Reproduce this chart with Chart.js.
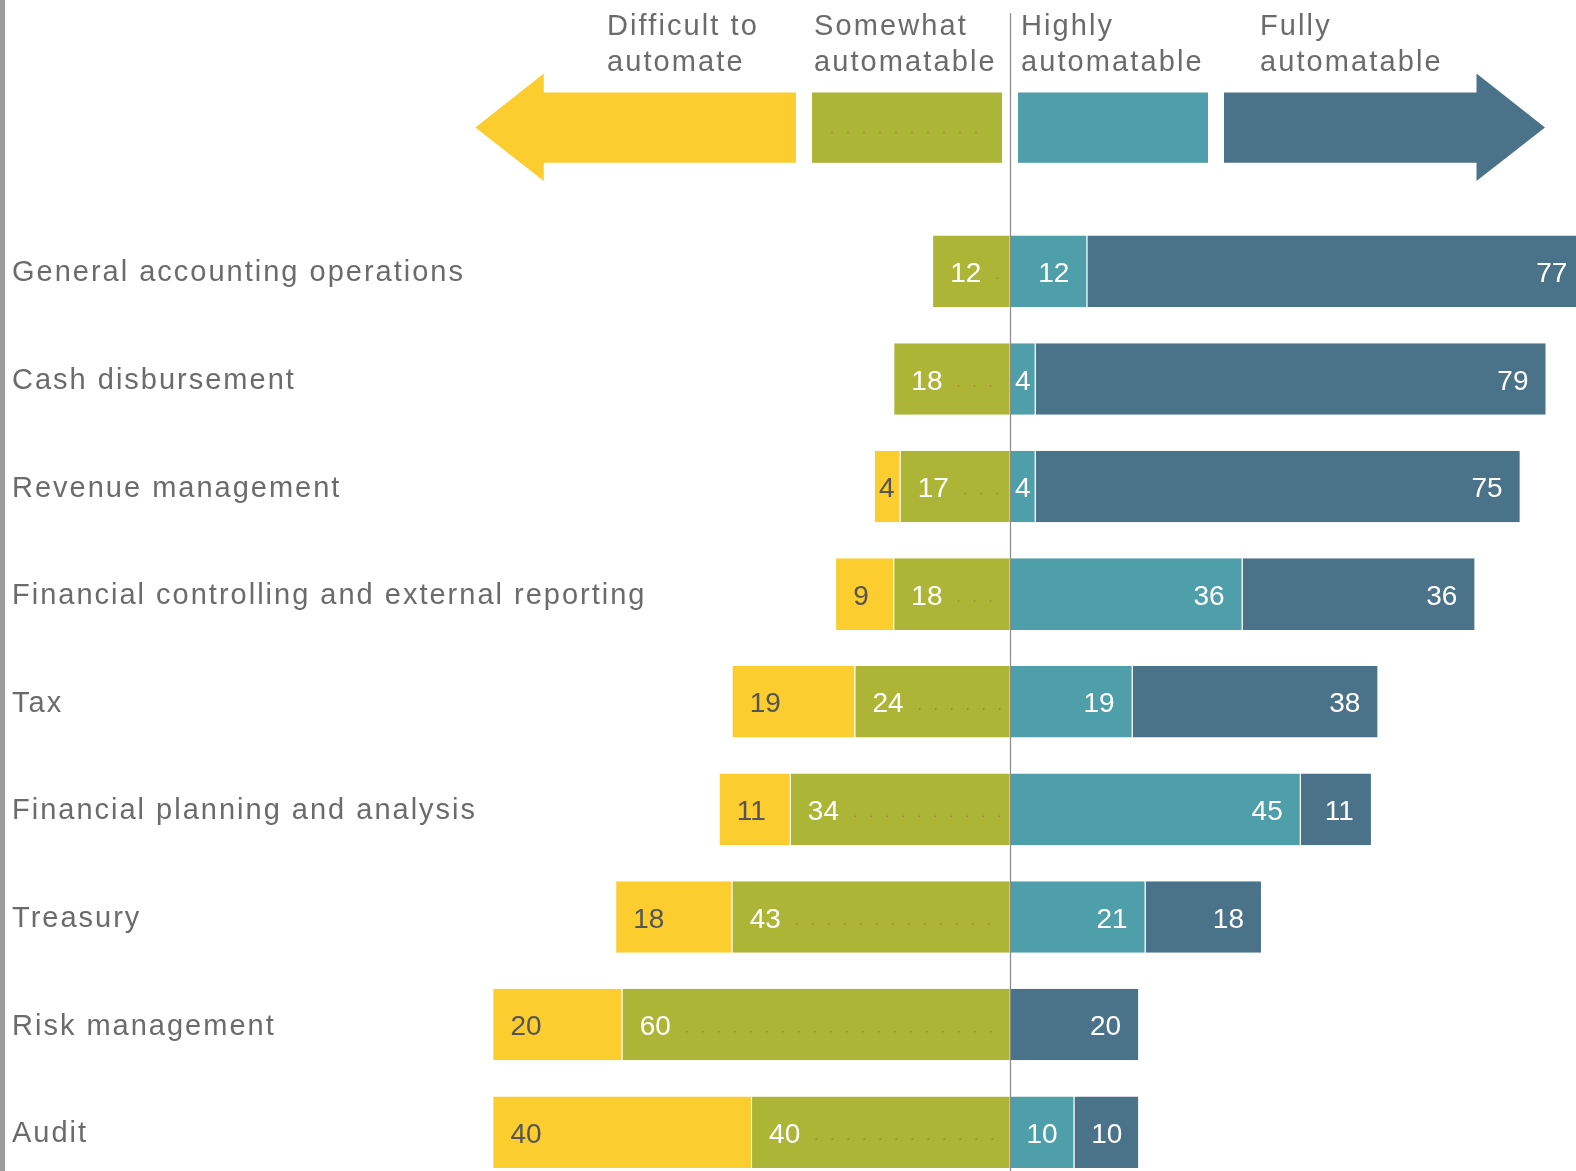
<!DOCTYPE html>
<html><head><meta charset="utf-8">
<script src="https://cdn.jsdelivr.net/npm/chart.js@4/dist/chart.umd.min.js"></script>
<style>
html,body{margin:0;padding:0;overflow:hidden;background:#fff;width:1576px;height:1171px}
#wrap{position:absolute;left:0;top:0;width:1576px;height:1216px}
canvas{display:block}
</style></head><body>
<div id="wrap"><canvas id="c" width="1576" height="1216"></canvas></div>
<script>
// ---- data ----
const categories = [
  'General accounting operations',
  'Cash disbursement',
  'Revenue management',
  'Financial controlling and external reporting',
  'Tax',
  'Financial planning and analysis',
  'Treasury',
  'Risk management',
  'Audit'
];
const difficultToAutomate = [0, 0, 4, 9, 19, 11, 18, 20, 40];
const somewhatAutomatable = [12, 18, 17, 18, 24, 34, 43, 60, 40];
const highlyAutomatable   = [12, 4, 4, 36, 19, 45, 21, 0, 10];
const fullyAutomatable    = [77, 79, 75, 36, 38, 11, 18, 20, 10];
const legendLines = [
  ['Difficult to', 'automate'],
  ['Somewhat', 'automatable'],
  ['Highly', 'automatable'],
  ['Fully', 'automatable']
];
const xRange = [-154.28, 87.56];

// ---- styles ----
const YELLOW = '#FBCD2F', GREEN = '#ACB536', TEAL = '#4E9FAA', DARK = '#4A7289';
const TEXT = '#6b6b6b';
const FONT = '"Liberation Sans", Arial, Helvetica, sans-serif';

const decor = {
  id: 'decor',
  beforeDraw(chart) {
    const ctx = chart.ctx;
    ctx.save();
    ctx.fillStyle = '#9c9c9c';
    ctx.fillRect(0, 0, 5, chart.height);
    ctx.restore();
    ctx.letterSpacing = '2px';
  },
  afterDatasetsDraw(chart) {
    const ctx = chart.ctx;
    const ds = chart.data.datasets;
    ctx.save();
    ctx.letterSpacing = '0px';
    ctx.font = '28px ' + FONT;
    ctx.textBaseline = 'middle';
    ds.forEach((d, i) => {
      const meta = chart.getDatasetMeta(i);
      meta.data.forEach((bar, j) => {
        const v = d.data[j];
        if (!v) return;
        const p = bar.getProps(['x', 'base', 'y'], true);
        const left = Math.min(p.x, p.base), right = Math.max(p.x, p.base), w = right - left;
        const txt = String(Math.abs(v));
        const tw = ctx.measureText(txt).width;
        let tx, align;
        if (w < tw + 36) { align = 'center'; tx = (left + right) / 2; }
        else if (v < 0) { align = 'left'; tx = left + 18; }
        else { align = 'right'; tx = right - 18; }
        ctx.textAlign = align;
        ctx.fillStyle = d.labelColor;
        ctx.fillText(txt, tx, p.y + 3);
        if (d.dotted) {
          let start = (align === 'left' ? tx + tw : left + w / 2 + tw / 2) + 16;
          ctx.save();
          ctx.fillStyle = 'rgba(165,95,70,0.55)';
          for (let xx = start; xx < right - 10; xx += 16) {
            ctx.beginPath(); ctx.arc(xx, p.y + 7, 0.9, 0, Math.PI * 2); ctx.fill();
          }
          ctx.restore();
        }
      });
    });
    // zero line
    const x0 = Math.round(chart.scales.x.getPixelForValue(0)) + 0.5;
    ctx.strokeStyle = '#8a8a8a';
    ctx.lineWidth = 1.2;
    ctx.beginPath(); ctx.moveTo(x0, 13); ctx.lineTo(x0, chart.height); ctx.stroke();
    ctx.restore();
  },
  afterDraw(chart) {
    const ctx = chart.ctx;
    const ds = chart.data.datasets;
    const colorOf = name => ds.find(d => d.label === name).backgroundColor;
    const yT = 92.5, yB = 162.8, yM = 127.6, hT = 73.4, hB = 181;
    ctx.save();
    // yellow arrow (left)
    ctx.fillStyle = colorOf('Difficult to automate');
    ctx.beginPath();
    ctx.moveTo(796, yT); ctx.lineTo(543.8, yT); ctx.lineTo(543.8, hT); ctx.lineTo(475.4, yM);
    ctx.lineTo(543.8, hB); ctx.lineTo(543.8, yB); ctx.lineTo(796, yB); ctx.closePath(); ctx.fill();
    // green box
    ctx.fillStyle = colorOf('Somewhat automatable');
    ctx.fillRect(812, yT, 190, yB - yT);
    ctx.fillStyle = 'rgba(165,95,70,0.45)';
    for (let xx = 832; xx < 990; xx += 16) { ctx.beginPath(); ctx.arc(xx, yM + 5, 0.9, 0, Math.PI * 2); ctx.fill(); }
    // teal box
    ctx.fillStyle = colorOf('Highly automatable');
    ctx.fillRect(1018, yT, 190, yB - yT);
    // dark arrow (right)
    ctx.fillStyle = colorOf('Fully automatable');
    ctx.beginPath();
    ctx.moveTo(1224, yT); ctx.lineTo(1476.5, yT); ctx.lineTo(1476.5, hT); ctx.lineTo(1545, yM);
    ctx.lineTo(1476.5, hB); ctx.lineTo(1476.5, yB); ctx.lineTo(1224, yB); ctx.closePath(); ctx.fill();
    // header text
    ctx.letterSpacing = '2.1px';
    ctx.font = '29px ' + FONT;
    ctx.fillStyle = TEXT;
    ctx.textAlign = 'left';
    ctx.textBaseline = 'alphabetic';
    const xs = [607, 814, 1021, 1260];
    legendLines.forEach((lines, i) => {
      ctx.fillText(lines[0], xs[i], 34.5);
      ctx.fillText(lines[1], xs[i], 71);
    });
    ctx.restore();
  }
};

const negBorder = {left: 1, right: 0, top: 0, bottom: 0};
const posBorder = {left: 0, right: 1, top: 0, bottom: 0};

new Chart(document.getElementById('c'), {
  type: 'bar',
  data: {
    labels: categories,
    datasets: [
      {label: 'Somewhat automatable', data: somewhatAutomatable.map(v => -v), backgroundColor: GREEN,
       borderColor: '#ffffff', borderWidth: negBorder, borderSkipped: false, labelColor: '#ffffff', dotted: true},
      {label: 'Difficult to automate', data: difficultToAutomate.map(v => -v), backgroundColor: YELLOW,
       borderColor: '#ffffff', borderWidth: negBorder, borderSkipped: false, labelColor: '#555555'},
      {label: 'Highly automatable', data: highlyAutomatable, backgroundColor: TEAL,
       borderColor: '#ffffff', borderWidth: posBorder, borderSkipped: false, labelColor: '#ffffff'},
      {label: 'Fully automatable', data: fullyAutomatable, backgroundColor: DARK,
       borderColor: '#ffffff', borderWidth: posBorder, borderSkipped: false, labelColor: '#ffffff'}
    ]
  },
  options: {
    indexAxis: 'y',
    responsive: false,
    animation: false,
    devicePixelRatio: 1,
    layout: {padding: {left: 12, right: 0, top: 217.5, bottom: 30}},
    datasets: {bar: {categoryPercentage: 1, barPercentage: 0.665}},
    plugins: {legend: {display: false}, tooltip: {enabled: false}},
    scales: {
      x: {type: 'linear', min: xRange[0], max: xRange[1], stacked: true, display: false},
      y: {
        type: 'category', stacked: true, offset: true,
        grid: {display: false, drawTicks: false},
        border: {display: false},
        ticks: {mirror: true, padding: 0, crossAlign: 'near', color: TEXT, labelOffset: 2,
                font: {family: FONT, size: 29}}
      }
    }
  },
  plugins: [decor]
});
</script>
</body></html>
